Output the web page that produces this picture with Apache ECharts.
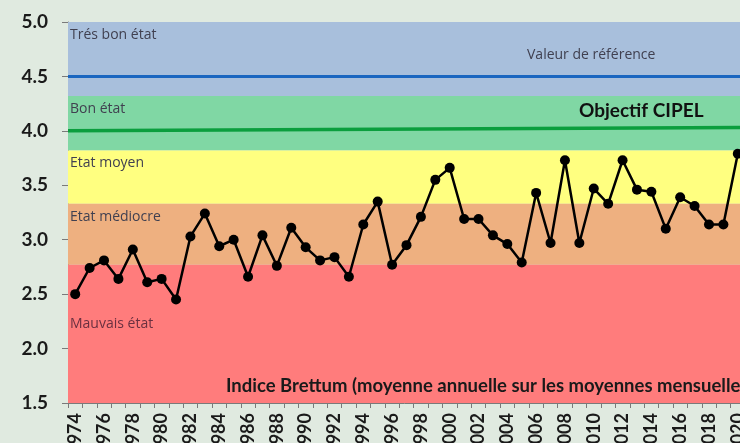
<!DOCTYPE html>
<html><head><meta charset="utf-8">
<script src="https://cdn.jsdelivr.net/npm/echarts@6/dist/echarts.min.js"></script>
<style>html,body{margin:0;padding:0;background:#e0eae0;}#c{width:740px;height:443px;}</style>
</head><body><div id="c"></div>
<script>
var years = ['1974','1975','1976','1977','1978','1979','1980','1981','1982','1983','1984','1985','1986','1987','1988','1989','1990','1991','1992','1993','1994','1995','1996','1997','1998','1999','2000','2001','2002','2003','2004','2005','2006','2007','2008','2009','2010','2011','2012','2013','2014','2015','2016','2017','2018','2019','2020'];
var brettum = [2.50,2.74,2.81,2.64,2.91,2.61,2.64,2.45,3.03,3.24,2.94,3.00,2.66,3.04,2.76,3.11,2.93,2.81,2.84,2.66,3.14,3.35,2.77,2.95,3.21,3.55,3.66,3.19,3.19,3.04,2.96,2.79,3.43,2.97,3.73,2.97,3.47,3.33,3.73,3.46,3.44,3.10,3.39,3.31,3.14,3.14,3.79];
var bandNames = ['Trés bon état','Bon état','Etat moyen','Etat médiocre','Mauvais état'];
var bandFrom = [4.32,3.82,3.33,2.77,1.5];
var bandTo = [5.0,4.32,3.82,3.33,2.77];
var bandColors = ['#a8bfdc','#80d7a4','#ffff80','#eeb080','#ff7c7c'];
var refLine = [4.5,4.5];
var objLine = [4.0,4.03];
var yTicks = {min:1.5,max:5.0,interval:0.5};

var font = 'Lato, "Open Sans", sans-serif';
var sfont = '"Open Sans", sans-serif';
var areas = bandNames.map(function(n,i){
  return [{yAxis:bandFrom[i], name:n, itemStyle:{color:bandColors[i]},
    label:{show:true, position:'insideTopLeft', distance:3, offset: i===4?[-1,49]:[-1,3],
      color: i===4 ? '#6a3040' : '#404050', fontSize:14, fontFamily:sfont}},
    {yAxis:bandTo[i]}];
});
var chart = echarts.init(document.getElementById('c'));
chart.setOption({
  backgroundColor:'#e0eae0',
  animation:false,
  grid:{left:68,top:22,right:-5,bottom:40,containLabel:false,outerBoundsMode:'none'},
  xAxis:[{type:'category',data:years,boundaryGap:true,
    axisLine:{lineStyle:{color:'#7a7a7a',width:1}},
    axisTick:{show:true,interval:0,length:5,lineStyle:{color:'#7a7a7a'}},
    axisLabel:{interval:1,rotate:90,margin:10,fontSize:18,fontWeight:'bold',color:'#1a1a1a',fontFamily:font}},
    {type:'value',min:0,max:1,show:false}],
  yAxis:{type:'value',min:yTicks.min,max:yTicks.max,interval:yTicks.interval,
    splitLine:{show:false},
    axisLine:{show:true,lineStyle:{color:'#7a7a7a'}},
    axisTick:{show:true,length:6,lineStyle:{color:'#7a7a7a'}},
    axisLabel:{margin:20,fontSize:19,fontWeight:'bold',color:'#1a1a1a',fontFamily:font,
      formatter:function(v){return v.toFixed(1);}}},
  series:[
    {type:'line',data:brettum,symbol:'circle',symbolSize:10,showSymbol:true,showAllSymbol:true,
      itemStyle:{color:'#000'},lineStyle:{color:'#000',width:2.5},z:5,
      markArea:{silent:true,data:areas}},
    {type:'line',xAxisIndex:1,data:[[0,refLine[0]],[1,refLine[1]]],symbol:'none',
      lineStyle:{color:'#1a66c0',width:3},z:3},
    {type:'line',xAxisIndex:1,data:[[0,objLine[0]],[1,objLine[1]]],symbol:'none',
      lineStyle:{color:'#0b9e3e',width:3.5},z:3}
  ],
  graphic:[
    {type:'text',z:100,left:527,top:48,style:{text:'Valeur de référence',fill:'#404050',font:'14px '+sfont}},
    {type:'text',z:100,left:579,top:101,style:{text:'Objectif CIPEL',fill:'#111',font:'bold 19px '+font}},
    {type:'text',z:100,left:226,top:377,style:{text:'Indice Brettum (moyenne annuelle sur les moyennes mensuelles)',fill:'#1a1a1a',font:'bold 18.5px '+font}}
  ]
});
</script></body></html>
